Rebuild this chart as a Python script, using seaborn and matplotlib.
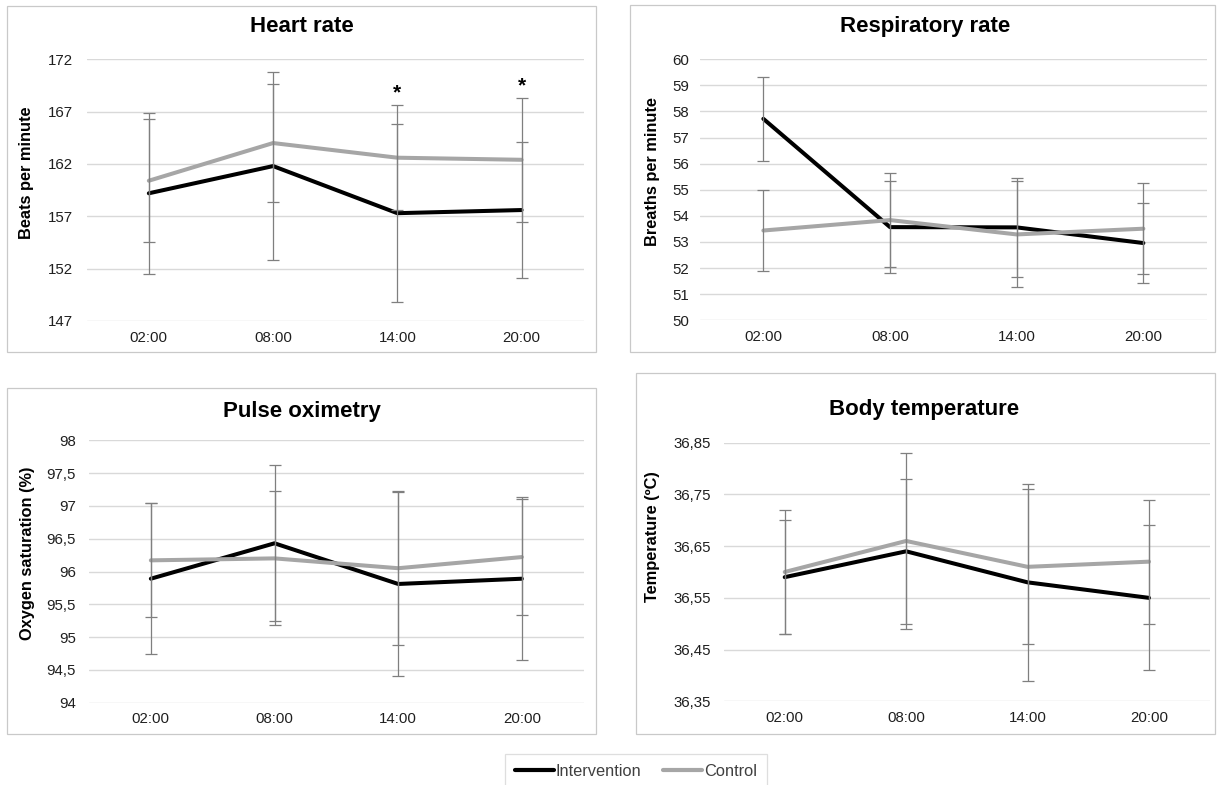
import matplotlib
matplotlib.use("Agg")
import matplotlib.pyplot as plt
from matplotlib.patches import Rectangle
from matplotlib.ticker import FuncFormatter
import seaborn as sns
import pandas as pd
import numpy as np

# ---------------- data ----------------
times = ["02:00", "08:00", "14:00", "20:00"]
groups = ["Intervention", "Control"]

hr_int = [159.2, 161.8, 157.3, 157.6]
hr_int_sd = [7.7, 9.0, 8.5, 6.5]
hr_ctl = [160.4, 164.0, 162.6, 162.4]
hr_ctl_sd = [5.9, 5.6, 5.0, 5.9]
hr_signif = ["", "", "*", "*"]

rr_int = [57.72, 53.57, 53.56, 52.96]
rr_int_sd = [1.62, 1.77, 1.91, 1.53]
rr_ctl = [53.44, 53.84, 53.29, 53.51]
rr_ctl_sd = [1.55, 1.80, 2.03, 1.75]

spo2_int = [95.89, 96.43, 95.81, 95.89]
spo2_int_sd = [1.15, 1.19, 1.40, 1.24]
spo2_ctl = [96.17, 96.20, 96.05, 96.22]
spo2_ctl_sd = [0.87, 1.02, 1.17, 0.89]

temp_int = [36.59, 36.64, 36.58, 36.55]
temp_int_sd = [0.11, 0.14, 0.19, 0.14]
temp_ctl = [36.60, 36.66, 36.61, 36.62]
temp_ctl_sd = [0.12, 0.17, 0.15, 0.12]

hr_ticks = [147, 152, 157, 162, 167, 172]
rr_ticks = [50, 51, 52, 53, 54, 55, 56, 57, 58, 59, 60]
spo2_ticks = [94, 94.5, 95, 95.5, 96, 96.5, 97, 97.5, 98]
temp_ticks = [36.35, 36.45, 36.55, 36.65, 36.75, 36.85]

# ---------------- style ----------------
sns.set_theme(style="white")
plt.rcParams["font.family"] = ["Liberation Sans", "DejaVu Sans"]

W, H = 1218, 785
fig = plt.figure(figsize=(W / 100, H / 100), dpi=100)

def fx(px):
    return px / W

def fy(py):
    return 1 - py / H

palette = {"Intervention": "#000000", "Control": "#A6A6A6"}
ERR_COLOR = "#7F7F7F"
GRID_COLOR = "#D9D9D9"
BOX_COLOR = "#C9C9C9"
TXT = "#1F1F1F"

def comma_fmt(v, pos):
    s = ("%.2f" % v).rstrip("0").rstrip(".")
    return s.replace(".", ",")

panels = [
    dict(title="Heart rate", ylabel="Beats per minute",
         mi=hr_int, si=hr_int_sd, mc=hr_ctl, sc=hr_ctl_sd, ticks=hr_ticks,
         ax_px=(86.7, 59.3, 583.7, 321.0), box=(7.3, 6.0, 595.7, 352.0),
         title_px=(301.6, 32.5), ylab=(26, 173), pad=10, sig=hr_signif),
    dict(title="Respiratory rate", ylabel="Breaths per minute",
         mi=rr_int, si=rr_int_sd, mc=rr_ctl, sc=rr_ctl_sd, ticks=rr_ticks,
         ax_px=(700.0, 59.3, 1206.7, 320.3), box=(630.0, 5.0, 1215.3, 352.0),
         title_px=(925, 32.0), ylab=(652, 172), pad=8, sig=None),
    dict(title="Pulse oximetry", ylabel="Oxygen saturation (%)",
         mi=spo2_int, si=spo2_int_sd, mc=spo2_ctl, sc=spo2_ctl_sd, ticks=spo2_ticks,
         ax_px=(89.0, 440.3, 583.7, 702.7), box=(7.3, 388.3, 595.7, 734.3),
         title_px=(301.6, 416.7), ylab=(28, 553), pad=9.5, sig=None),
    dict(title="Body temperature", ylabel="Temperature (ºC)",
         mi=temp_int, si=temp_int_sd, mc=temp_ctl, sc=temp_ctl_sd, ticks=temp_ticks,
         ax_px=(724.0, 442.7, 1209.7, 701.3), box=(636.0, 373.3, 1215.3, 734.3),
         title_px=(924, 415.0), ylab=(652.5, 537), pad=9.5, sig=None),
]

legend_handles = None
for k, p in enumerate(panels):
    # panel border
    bx0, by0, bx1, by1 = p["box"]
    fig.add_artist(Rectangle((fx(bx0), fy(by1)), fx(bx1) - fx(bx0), fy(by0) - fy(by1),
                             transform=fig.transFigure, fill=False,
                             edgecolor=BOX_COLOR, linewidth=0.9, zorder=0))
    x0, y0, x1, y1 = p["ax_px"]
    ax = fig.add_axes([fx(x0), fy(y1), fx(x1) - fx(x0), fy(y0) - fy(y1)])
    ax.patch.set_alpha(0)

    df = pd.DataFrame({
        "time": times * 2,
        "value": list(p["mi"]) + list(p["mc"]),
        "group": [groups[0]] * len(times) + [groups[1]] * len(times),
    })
    sns.lineplot(data=df, x="time", y="value", hue="group", hue_order=groups,
                 palette=palette, linewidth=2.9, sort=False, ax=ax,
                 legend=(k == 0), zorder=3)
    if k == 0:
        legend_handles = ax.get_legend_handles_labels()
        ax.get_legend().remove()

    xpos = np.arange(len(times))
    for means, sds in ((p["mi"], p["si"]), (p["mc"], p["sc"])):
        ax.errorbar(xpos, means, yerr=sds, fmt="none", ecolor=ERR_COLOR,
                    elinewidth=0.9, capsize=4.5, capthick=0.9, zorder=4)

    if p["sig"] is not None:
        for i, s in enumerate(p["sig"]):
            if s:
                top = max(p["mi"][i] + p["si"][i], p["mc"][i] + p["sc"][i])
                ax.annotate(s, xy=(xpos[i], top), xytext=(0, 5),
                            textcoords="offset points", ha="center", va="baseline",
                            fontsize=15, fontweight="bold", color="black")

    ax.set_xlim(-0.5, len(times) - 0.5)
    ax.set_ylim(p["ticks"][0], p["ticks"][-1])
    ax.set_yticks(p["ticks"])
    ax.yaxis.set_major_formatter(FuncFormatter(comma_fmt))
    ax.set_xticks(xpos)
    ax.set_xticklabels(times)
    ax.grid(axis="y", color=GRID_COLOR, linewidth=1.0)
    ax.grid(axis="x", visible=False)
    ax.set_axisbelow(True)
    for sp in ax.spines.values():
        sp.set_visible(False)
    ax.tick_params(axis="y", length=0, pad=p["pad"], labelsize=10.8, labelcolor=TXT)
    ax.tick_params(axis="x", length=0, pad=7, labelsize=10.8, labelcolor=TXT)
    ax.set_xlabel("")
    ax.set_ylabel(p["ylabel"], fontsize=11.8, fontweight="bold", color="black")
    ax.yaxis.label.set_va("center")
    lx, ly = p["ylab"]
    ax.yaxis.set_label_coords((lx - x0) / (x1 - x0), (y1 - ly) / (y1 - y0))

    tx, ty = p["title_px"]
    fig.text(fx(tx), fy(ty), p["title"], ha="center", va="baseline",
             fontsize=16, fontweight="bold", color="black")

handles, labels = legend_handles
for h in handles:
    h.set_linewidth(3.0)
leg = fig.legend(handles, labels, loc="upper center",
                 bbox_to_anchor=(fx(636), fy(754)), ncol=2, frameon=True,
                 fancybox=False, edgecolor="#D6D6D6", fontsize=11.8,
                 handlelength=2.4, handletextpad=0.1, columnspacing=1.3,
                 borderpad=0.6, borderaxespad=0)
leg.get_frame().set_linewidth(0.9)
for t in leg.get_texts():
    t.set_color("#404040")

fig.savefig("out.png", dpi=100)
